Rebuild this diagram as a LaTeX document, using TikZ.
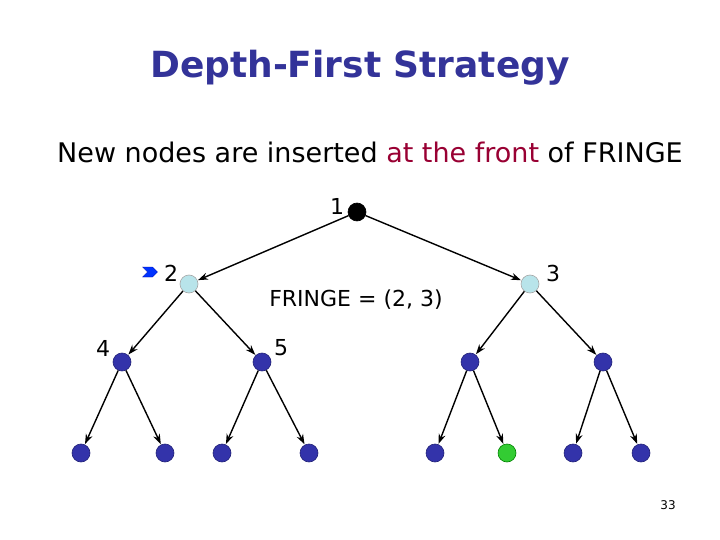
\documentclass[tikz,border=0pt]{standalone}
\usepackage{fontspec}
\setmainfont{DejaVu Sans}
\usetikzlibrary{arrows.meta,shapes.geometric,shapes.symbols}
\definecolor{titleblue}{HTML}{333399}
\definecolor{nodeblue}{HTML}{3333AA}
\definecolor{nodeborder}{HTML}{222277}
\definecolor{fringecyan}{HTML}{B8E4EA}
\definecolor{frontred}{HTML}{990033}
\definecolor{leafgreen}{HTML}{33CC33}
\begin{document}
\begin{tikzpicture}[x=1pt,y=-1pt,
  tnode/.style={circle,draw=nodeborder,fill=nodeblue,line width=0.6pt,minimum size=18pt,inner sep=0pt},
  rootnode/.style={tnode,draw=black,fill=black},
  fnode/.style={tnode,draw=gray!70,fill=fringecyan},
  gnode/.style={tnode,draw=green!50!black,fill=leafgreen},
  edge/.style={-{Stealth[length=10pt,width=7pt]},line width=1.4pt,black,shorten >=0.5pt},
  lab/.style={font=\fontsize{22}{26}\selectfont,inner sep=0pt}]
\useasboundingbox (0,0) rectangle (720,540);
\fill[white] (0,0) rectangle (720,540);
\node[font=\fontsize{36}{42}\selectfont\bfseries,text=titleblue] (title) at (360,68) {Depth-First Strategy};
\node[font=\fontsize{27}{32}\selectfont] (sub) at (370,152) {New nodes are inserted \textcolor{frontred}{at the front} of FRINGE};
% tree nodes
\node[rootnode] (n1) at (357,212) {};
\node[fnode] (n2) at (189,284) {};
\node[fnode] (n3) at (530,284) {};
\node[tnode] (n4) at (122,362) {};
\node[tnode] (n5) at (262,362) {};
\node[tnode] (n6) at (470,362) {};
\node[tnode] (n7) at (603,362) {};
\node[tnode] (l1) at (81,453) {};
\node[tnode] (l2) at (165,453) {};
\node[tnode] (l3) at (222,453) {};
\node[tnode] (l4) at (309,453) {};
\node[tnode] (l5) at (435,453) {};
\node[gnode] (l6) at (507,453) {};
\node[tnode] (l7) at (573,453) {};
\node[tnode] (l8) at (641,453) {};
% labels
\node[lab] (t1) at (337,206) {1};
\node[lab] (t2) at (171,273) {2};
\node[lab] (t3) at (553,273) {3};
\node[lab] (t4) at (103,348) {4};
\node[lab] (t5) at (281,348) {5};
\node[font=\fontsize{22}{26}\selectfont] (fringe) at (356,300) {FRINGE = (2, 3)};
\node[signal,signal to=east,signal from=west,fill=blue!80!cyan,draw=blue!60!black,line width=0.3pt,minimum width=15pt,minimum height=10pt,inner sep=0pt] (mark) at (150,272) {};
\node[font=\fontsize{12}{14}\selectfont] (page) at (668,505) {33};
% edges
\draw[edge] (n1) -- (n2);
\draw[edge] (n1) -- (n3);
\draw[edge] (n2) -- (n4);
\draw[edge] (n2) -- (n5);
\draw[edge] (n3) -- (n6);
\draw[edge] (n3) -- (n7);
\draw[edge] (n4) -- (l1);
\draw[edge] (n4) -- (l2);
\draw[edge] (n5) -- (l3);
\draw[edge] (n5) -- (l4);
\draw[edge] (n6) -- (l5);
\draw[edge] (n6) -- (l6);
\draw[edge] (n7) -- (l7);
\draw[edge] (n7) -- (l8);
\end{tikzpicture}
\end{document}
